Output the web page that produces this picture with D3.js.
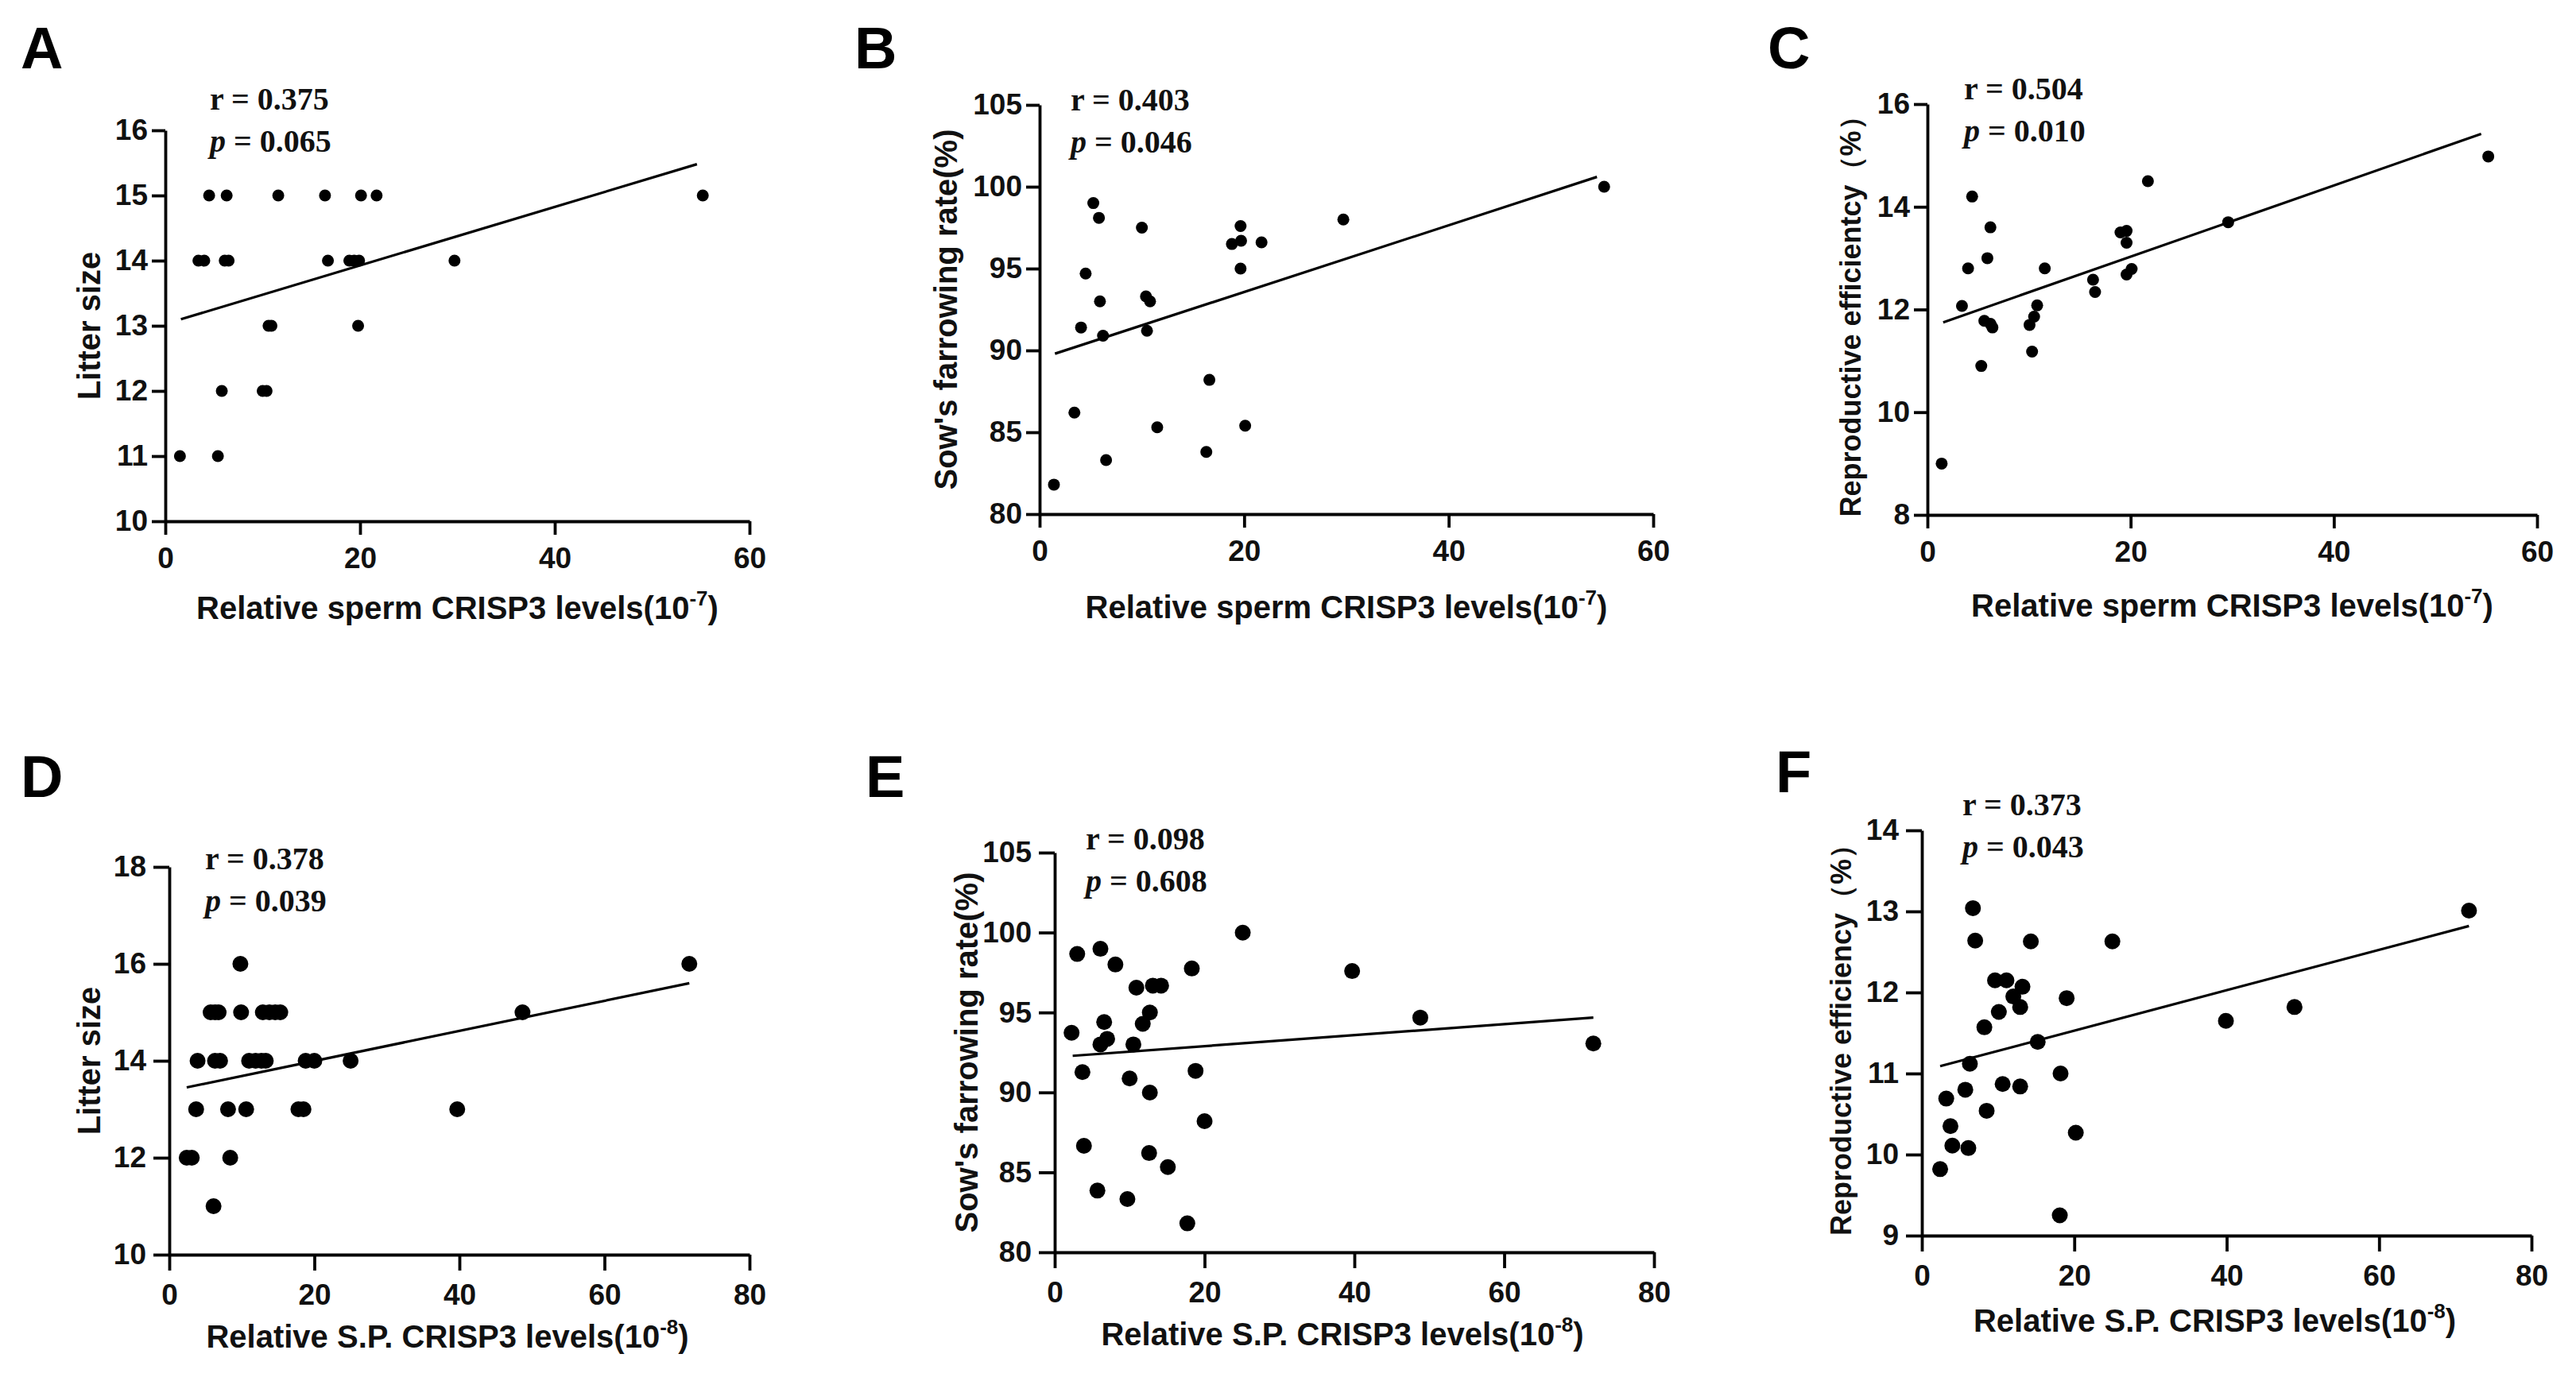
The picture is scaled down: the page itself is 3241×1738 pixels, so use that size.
<!DOCTYPE html>
<html>
<head>
<meta charset="utf-8">
<script src="https://cdn.jsdelivr.net/npm/d3@7"></script>
<style>
  body { margin: 0; background: #fff; }
  svg { display: block; }
  .tick text { font-family: "Liberation Sans", Arial, sans-serif; font-weight: bold; fill: #111; }
</style>
</head>
<body>
<div id="chart"></div>
<script>
// ---- data ----
// A: litter size vs sperm CRISP3
const aX = [1.5, 5.4, 5.8, 10.0, 10.4, 10.6, 10.9, 19.8, 3.4, 4.0, 6.1, 6.5, 16.7, 18.9, 19.4, 19.9, 29.7, 4.5, 6.3, 11.6, 16.4, 20.1, 21.7, 55.2];
const aY = [11, 11, 12, 12, 12, 13, 13, 13, 14, 14, 14, 14, 14, 14, 14, 14, 14, 15, 15, 15, 15, 15, 15, 15];
const aFitX = [1.6, 54.6];
const aFitY = [13.1, 15.48];

// B: farrowing rate vs sperm CRISP3
const bX = [1.4, 3.4, 6.5, 4.05, 4.5, 5.25, 5.8, 5.9, 6.2, 10.0, 10.4, 10.8, 10.5, 11.5, 16.3, 16.6, 18.8, 19.7, 19.65, 19.65, 20.1, 21.7, 29.7, 55.2];
const bY = [81.8, 86.2, 83.3, 91.4, 94.7, 99.0, 98.1, 93.0, 90.9, 97.5, 93.3, 93.0, 91.2, 85.3, 83.8, 88.2, 96.5, 96.7, 97.6, 95.0, 85.4, 96.6, 98.0, 100.0];
const bFitX = [1.5, 54.5];
const bFitY = [89.8, 100.6];

// C: reproductive efficiency vs sperm CRISP3
const cX = [1.4, 3.4, 4.0, 4.4, 5.3, 5.6, 5.9, 6.2, 6.2, 6.4, 10.05, 10.5, 10.3, 10.8, 11.55, 16.3, 16.5, 19.0, 19.6, 19.6, 19.6, 20.1, 21.7, 29.6, 55.2];
const cY = [9.0, 12.07, 12.8, 14.2, 10.9, 11.78, 13.0, 11.72, 13.6, 11.65, 11.7, 11.86, 11.18, 12.08, 12.8, 12.58, 12.34, 13.5, 13.53, 13.3, 12.68, 12.79, 14.5, 13.7, 14.98];
const cFitX = [1.55, 54.5];
const cFitY = [11.75, 15.42];

// D: litter size vs S.P. CRISP3
const dX = [2.4, 3.1, 6.1, 8.4, 3.7, 8.1, 10.6, 17.8, 18.5, 39.7, 3.9, 6.3, 7.0, 11.0, 11.9, 12.7, 13.3, 18.8, 20.0, 25.0, 5.7, 6.3, 6.8, 9.9, 12.9, 13.8, 14.6, 15.3, 48.7, 9.8, 71.7];
const dY = [12, 12, 11, 12, 13, 13, 13, 13, 13, 13, 14, 14, 14, 14, 14, 14, 14, 14, 14, 14, 15, 15, 15, 15, 15, 15, 15, 15, 15, 16, 16];
const dFitX = [2.4, 71.7];
const dFitY = [13.45, 15.6];

// E: farrowing rate vs S.P. CRISP3
const eX = [2.25, 3.0, 3.7, 3.9, 5.7, 6.1, 6.1, 6.6, 7.0, 8.1, 9.7, 10.0, 10.5, 10.9, 11.75, 12.7, 13.1, 14.2, 12.7, 12.6, 15.1, 17.7, 18.3, 18.8, 20.0, 25.1, 39.7, 48.8, 71.9];
const eY = [93.73, 98.66, 91.27, 86.66, 83.86, 98.98, 93.0, 94.4, 93.35, 98.0, 83.33, 90.87, 93.0, 96.55, 94.29, 95.0, 96.68, 96.68, 89.99, 86.21, 85.33, 81.81, 97.75, 91.35, 88.2, 99.99, 97.59, 94.68, 93.06];
const eFitX = [2.4, 71.9];
const eFitY = [92.29, 94.68];

// F: reproductive efficiency vs S.P. CRISP3
const fX = [2.4, 3.2, 3.75, 4.0, 5.7, 6.1, 6.3, 6.7, 7.0, 8.2, 8.5, 9.6, 10.1, 10.6, 11.1, 12.0, 12.9, 12.9, 13.2, 14.3, 15.2, 18.2, 18.1, 19.0, 20.2, 25.0, 39.9, 48.9, 71.8];
const fY = [9.82, 10.69, 10.35, 10.11, 10.80, 10.08, 11.12, 13.04, 12.64, 11.57, 10.54, 12.15, 11.76, 10.87, 12.15, 11.95, 10.84, 11.82, 12.07, 12.63, 11.39, 11.0, 9.25, 11.93, 10.27, 12.63, 11.65, 11.82, 13.01];
const fFitX = [2.4, 71.8];
const fFitY = [11.09, 12.82];

// tick values
const xTicks60 = [0, 20, 40, 60];
const xTicks80 = [0, 20, 40, 60, 80];
const litterTicksA = [10, 11, 12, 13, 14, 15, 16];
const litterTicksD = [10, 12, 14, 16, 18];
const farrowTicks = [80, 85, 90, 95, 100, 105];
const effTicksC = [8, 10, 12, 14, 16];
const effTicksF = [9, 10, 11, 12, 13, 14];

// stats text
const rValues = ["0.375", "0.403", "0.504", "0.378", "0.098", "0.373"];
const pValues = ["0.065", "0.046", "0.010", "0.039", "0.608", "0.043"];
const yTitles = ["Litter size", "Sow's farrowing rate(%)", "Reproductive efficientcy（%）",
                 "Litter size", "Sow's farrowing rate(%)", "Reproductive efficiency（%）"];

const width = 3241;
const height = 1738;

const svg = d3.select("#chart").append("svg")
    .attr("width", width)
    .attr("height", height)
    .style("background", "#fff");

// layout per panel (pixel boxes measured on the reference)
// box = [left, right, top, bottom] of the axes
const topRow = {dot: 7.5, tick: 17, xPad: 16, yPad: 5};
const bottomRow = {dot: 10, tick: 20, xPad: 17, yPad: 9};
const panels = [
    {id: "A", xs: aX, ys: aY, fx: aFitX, fy: aFitY, xDom: [0, 60], xT: xTicks60, yDom: [10, 16], yT: litterTicksA,
     sperm: true, box: [208, 943, 164, 656], letter: [26, 86], note: [264, 124], yTitleX: 112, yFont: 40, row: topRow, titleY: 765, titleShift: 0},
    {id: "B", xs: bX, ys: bY, fx: bFitX, fy: bFitY, xDom: [0, 60], xT: xTicks60, yDom: [80, 105], yT: farrowTicks,
     sperm: true, box: [1308, 2080, 132, 647], letter: [1075, 86], note: [1347, 125], yTitleX: 1190, yFont: 40, row: topRow, titleY: 764, titleShift: 0},
    {id: "C", xs: cX, ys: cY, fx: cFitX, fy: cFitY, xDom: [0, 60], xT: xTicks60, yDom: [8, 16], yT: effTicksC,
     sperm: true, box: [2425, 3192, 131, 648], letter: [2224, 86], note: [2471, 111], yTitleX: 2328, yFont: 36, row: topRow, titleY: 762, titleShift: 0},
    {id: "D", xs: dX, ys: dY, fx: dFitX, fy: dFitY, xDom: [0, 80], xT: xTicks80, yDom: [10, 18], yT: litterTicksD,
     sperm: false, box: [213, 943, 1091, 1579], letter: [26, 1003], note: [258, 1080], yTitleX: 112, yFont: 40, row: bottomRow, titleY: 1682, titleShift: -15},
    {id: "E", xs: eX, ys: eY, fx: eFitX, fy: eFitY, xDom: [0, 80], xT: xTicks80, yDom: [80, 105], yT: farrowTicks,
     sperm: false, box: [1327, 2081, 1073, 1576], letter: [1089, 1003], note: [1366, 1055], yTitleX: 1216, yFont: 40, row: bottomRow, titleY: 1679, titleShift: -15},
    {id: "F", xs: fX, ys: fY, fx: fFitX, fy: fFitY, xDom: [0, 80], xT: xTicks80, yDom: [9, 14], yT: effTicksF,
     sperm: false, box: [2418, 3185, 1045, 1555], letter: [2234, 997], note: [2469, 1012], yTitleX: 2316, yFont: 36, row: bottomRow, titleY: 1662, titleShift: -15}
];

const sans = '"Liberation Sans", Arial, sans-serif';
const serif = '"Liberation Serif", "Times New Roman", serif';

panels.forEach((p, i) => {
    const [x0, x1, y0, y1] = p.box;
    const xScale = d3.scaleLinear().domain(p.xDom).range([x0, x1]);
    const yScale = d3.scaleLinear().domain(p.yDom).range([y1, y0]);

    const g = svg.append("g").attr("id", "panel-" + p.id);

    // axes
    const xAxis = d3.axisBottom(xScale).tickValues(p.xT).tickFormat(d3.format("d"))
        .tickSize(p.row.tick).tickSizeOuter(0).tickPadding(p.row.xPad);
    const yAxis = d3.axisLeft(yScale).tickValues(p.yT).tickFormat(d3.format("d"))
        .tickSize(p.row.tick).tickSizeOuter(0).tickPadding(p.row.yPad);

    const gx = g.append("g")
        .attr("transform", "translate(0," + y1 + ")")
        .call(xAxis);
    const gy = g.append("g")
        .attr("transform", "translate(" + x0 + ",0)")
        .call(yAxis);

    [gx, gy].forEach(a => {
        a.select(".domain").attr("stroke", "#000").attr("stroke-width", 3.8);
        a.selectAll(".tick line").attr("stroke", "#000").attr("stroke-width", 3.8);
        a.selectAll(".tick text").style("font-size", "37px");
    });

    // fit line
    g.append("line")
        .attr("x1", xScale(p.fx[0]))
        .attr("y1", yScale(p.fy[0]))
        .attr("x2", xScale(p.fx[1]))
        .attr("y2", yScale(p.fy[1]))
        .attr("stroke", "#000")
        .attr("stroke-width", 3.2);

    // points
    g.selectAll("circle")
        .data(p.xs.map((v, k) => ({x: v, y: p.ys[k]})))
        .enter()
        .append("circle")
        .attr("cx", d => xScale(d.x))
        .attr("cy", d => yScale(d.y))
        .attr("r", p.row.dot)
        .attr("fill", "#000");

    // panel letter
    g.append("text")
        .attr("x", p.letter[0])
        .attr("y", p.letter[1])
        .style("font-family", sans)
        .style("font-weight", "bold")
        .style("font-size", "74px")
        .text(p.id);

    // r and p
    const note = g.append("text")
        .style("font-family", serif)
        .style("font-weight", "bold")
        .style("font-size", "40px")
        .attr("fill", "#111");
    note.append("tspan")
        .attr("x", p.note[0])
        .attr("y", p.note[1])
        .attr("dy", "0.35em")
        .text("r = " + rValues[i]);
    const pl = note.append("tspan")
        .attr("x", p.note[0])
        .attr("y", p.note[1] + 53)
        .attr("dy", "0.35em");
    pl.append("tspan").style("font-style", "italic").text("p");
    pl.append("tspan").text(" = " + pValues[i]);

    // y title
    g.append("text")
        .attr("transform", "translate(" + p.yTitleX + "," + ((y0 + y1) / 2) + ") rotate(-90)")
        .attr("text-anchor", "middle")
        .attr("dy", "0.35em")
        .style("font-family", sans)
        .style("font-weight", "bold")
        .style("font-size", p.yFont + "px")
        .attr("fill", "#111")
        .text(yTitles[i]);

    // x title with superscript exponent
    const xt = g.append("text")
        .attr("x", (x0 + x1) / 2 + p.titleShift)
        .attr("y", p.titleY)
        .attr("dy", "0.35em")
        .attr("text-anchor", "middle")
        .style("font-family", sans)
        .style("font-weight", "bold")
        .style("font-size", "40px")
        .attr("fill", "#111");
    xt.append("tspan").text(p.sperm ? "Relative sperm CRISP3 levels(10" : "Relative S.P. CRISP3 levels(10");
    xt.append("tspan")
        .attr("dy", -17)
        .style("font-size", "26px")
        .text(p.sperm ? "-7" : "-8");
    xt.append("tspan")
        .attr("dy", 17)
        .text(")");
});
</script>
</body>
</html>
